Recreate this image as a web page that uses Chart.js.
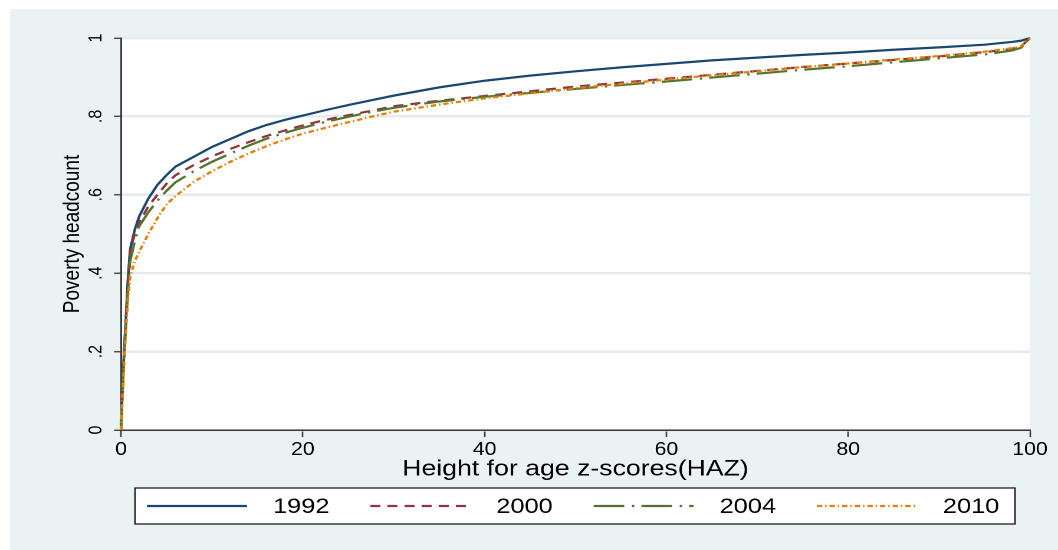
<!DOCTYPE html>
<html><head><meta charset="utf-8">
<script src="https://cdn.jsdelivr.net/npm/chart.js@4"></script>
<style>
html,body{margin:0;padding:0;background:#fff;overflow:hidden;width:1058px;height:550px}
#c{display:block;width:897px;height:550px;transform:scaleX(1.179487);transform-origin:0 0}
</style>
</head><body>
<canvas id="c" width="897" height="550"></canvas>
<script>
// ---- data ----
const seriesLabels = ['1992', '2000', '2004', '2010'];
const xValues = [0, 0.25, 0.5, 0.75, 1, 1.5, 2, 3, 4, 5, 6, 8, 10, 12, 14, 16, 18, 20, 22.5, 25, 27.5, 30, 35, 40, 45, 50, 55, 60, 65, 70, 75, 80, 85, 90, 95, 98, 99, 100];
const y1992 = [0, 0.16, 0.27, 0.38, 0.46, 0.51, 0.545, 0.59, 0.625, 0.65, 0.672, 0.697, 0.722, 0.742, 0.762, 0.778, 0.791, 0.802, 0.816, 0.829, 0.841, 0.853, 0.874, 0.891, 0.904, 0.915, 0.925, 0.934, 0.943, 0.950, 0.957, 0.963, 0.970, 0.976, 0.983, 0.990, 0.993, 1.0];
const y2000 = [0, 0.15, 0.26, 0.37, 0.455, 0.50, 0.53, 0.57, 0.60, 0.628, 0.650, 0.676, 0.698, 0.717, 0.734, 0.750, 0.764, 0.777, 0.791, 0.803, 0.814, 0.826, 0.840, 0.852, 0.864, 0.876, 0.886, 0.896, 0.906, 0.916, 0.926, 0.935, 0.944, 0.953, 0.964, 0.972, 0.978, 1.0];
const y2004 = [0, 0.14, 0.25, 0.35, 0.43, 0.48, 0.52, 0.555, 0.585, 0.61, 0.632, 0.660, 0.684, 0.705, 0.725, 0.743, 0.758, 0.771, 0.786, 0.799, 0.811, 0.822, 0.838, 0.850, 0.860, 0.870, 0.880, 0.889, 0.899, 0.909, 0.919, 0.928, 0.938, 0.948, 0.958, 0.968, 0.975, 1.0];
const y2010 = [0, 0.13, 0.24, 0.33, 0.39, 0.43, 0.455, 0.50, 0.54, 0.575, 0.597, 0.633, 0.660, 0.684, 0.705, 0.724, 0.741, 0.756, 0.771, 0.785, 0.799, 0.812, 0.830, 0.846, 0.859, 0.872, 0.883, 0.894, 0.905, 0.915, 0.926, 0.935, 0.945, 0.954, 0.965, 0.974, 0.979, 1.0];
const xTickLabels = ['0', '20', '40', '60', '80', '100'];
const yTickLabels = ['0', '.2', '.4', '.6', '.8', '1'];

// ---- styling / layout (real pixel coords converted to the stretched canvas) ----
const S = 1058 / 897;
const X = v => v / S;
const FONT = "'Liberation Sans', Arial, Helvetica, sans-serif";
const colors = ['#1a476f', '#90353b', '#55752f', '#e37e00'];
const dashes = [[], [8.5, 6], [26, 6.5, 2, 6], [4.5, 2.5, 1.2, 2.5]];
const ySeries = [y1992, y2000, y2004, y2010];

const toPoints = ys => xValues.map((x, i) => ({ x: x, y: ys[i] }));

const bgPlugin = {
  id: 'bg',
  beforeDraw(chart) {
    const { ctx, chartArea: a } = chart;
    ctx.save();
    ctx.fillStyle = '#ffffff';
    ctx.fillRect(0, 0, chart.width, chart.height);
    ctx.fillStyle = '#eaf2f3';
    ctx.fillRect(X(10), 9, chart.width - X(10), chart.height - 9);
    ctx.fillStyle = '#ffffff';
    ctx.fillRect(a.left, a.top, a.right - a.left, a.bottom - a.top);
    ctx.restore();
  }
};

const legendPlugin = {
  id: 'stataLegend',
  afterDraw(chart) {
    const ctx = chart.ctx;
    const top = 488, h = 36, left = X(135), right = X(1015);
    ctx.save();
    ctx.fillStyle = '#ffffff';
    ctx.fillRect(left, top, right - left, h);
    ctx.strokeStyle = '#1e1e1e';
    ctx.lineWidth = 1.3;
    ctx.setLineDash([]);
    ctx.strokeRect(left, top, right - left, h);
    const cy = top + h / 2;
    chart.data.datasets.forEach((ds, i) => {
      const x0 = X(147 + i * 223.3);
      ctx.beginPath();
      ctx.setLineDash(ds.borderDash || []);
      ctx.strokeStyle = ds.borderColor;
      ctx.lineWidth = ds.borderWidth;
      ctx.moveTo(x0, cy);
      ctx.lineTo(x0 + X(100), cy);
      ctx.stroke();
      ctx.setLineDash([]);
      ctx.fillStyle = '#000';
      ctx.font = "21.5px " + FONT;
      ctx.textAlign = 'left';
      ctx.textBaseline = 'middle';
      ctx.fillText(ds.label, x0 + X(126), cy + 1);
    });
    ctx.restore();
  }
};

new Chart(document.getElementById('c'), {
  type: 'line',
  data: {
    datasets: seriesLabels.map((lab, i) => ({
      label: lab,
      data: toPoints(ySeries[i]),
      borderColor: colors[i],
      backgroundColor: colors[i],
      borderWidth: 2.2,
      borderDash: dashes[i],
      pointRadius: 0,
      tension: 0,
      fill: false,
      clip: 4,
      order: 4 - i
    }))
  },
  options: {
    responsive: false,
    devicePixelRatio: 2,
    animation: false,
    layout: { padding: { top: 38, right: 897 - X(1030), bottom: 60, left: 0 } },
    plugins: { legend: { display: false }, tooltip: { enabled: false } },
    scales: {
      x: {
        type: 'linear', min: 0, max: 100,
        afterFit: s => { s.height = 60; },
        afterBuildTicks: s => { s.ticks = xTickLabels.map(t => ({ value: Number(t) })); },
        ticks: {
          callback: (v, i) => xTickLabels[i],
          font: { family: FONT, size: 18 }, color: '#000', padding: 2, maxRotation: 0
        },
        grid: { drawOnChartArea: false, drawTicks: true, tickLength: 7, tickColor: '#3a3a3a', tickWidth: 1.3 },
        border: { color: '#3a3a3a', width: 1.5 },
        title: {
          display: true, text: 'Height for age z-scores(HAZ)', color: '#000',
          font: { family: FONT, size: 22.6 }, padding: { top: 0, bottom: 7.2 }
        }
      },
      y: {
        type: 'linear', min: 0, max: 1,
        afterFit: s => { s.width = X(121); },
        afterBuildTicks: s => { s.ticks = yTickLabels.map((t, i) => ({ value: i * 0.2 })); },
        ticks: {
          callback: (v, i) => yTickLabels[i],
          font: { family: FONT, size: 16 }, color: '#000',
          minRotation: 90, maxRotation: 90, crossAlign: 'center', padding: 8.6
        },
        grid: { color: '#e4ecee', lineWidth: 2.5, drawTicks: true, tickLength: X(7), tickColor: '#3a3a3a', tickWidth: 1.3 },
        border: { color: '#3a3a3a', width: 1.5 },
        title: {
          display: true, text: 'Poverty headcount', color: '#000',
          font: { family: FONT, size: 19 }, padding: { top: X(73) - 11.4, bottom: 0 }
        }
      }
    }
  },
  plugins: [bgPlugin, legendPlugin]
});
</script>
</body></html>
